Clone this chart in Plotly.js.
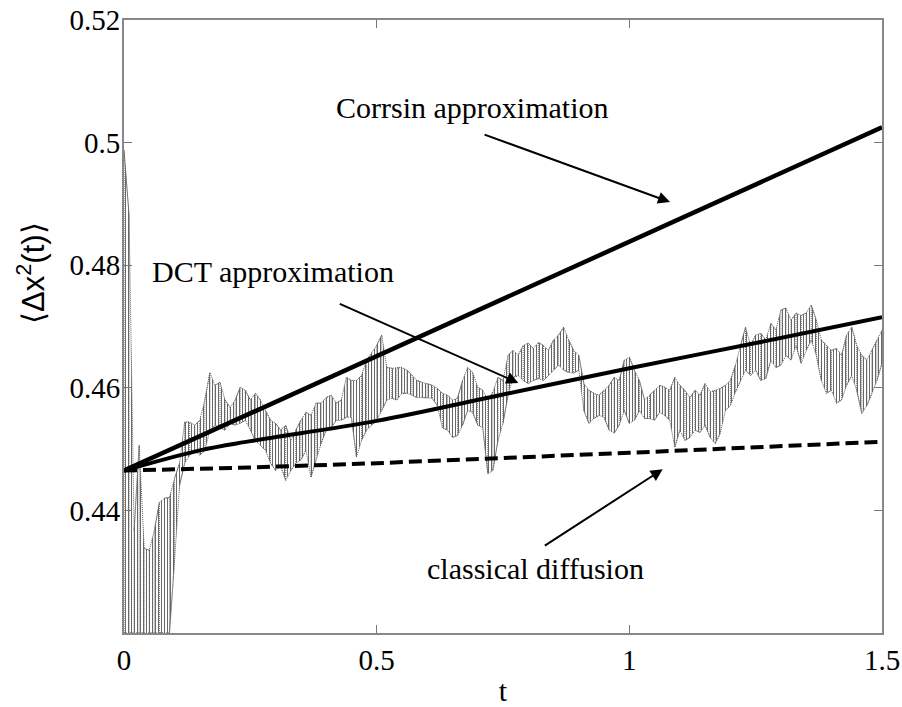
<!DOCTYPE html>
<html>
<head>
<meta charset="utf-8">
<script src="https://cdn.plot.ly/plotly-3.0.1.min.js"></script>
<style>html,body{margin:0;padding:0;background:#fff;}#chart{width:902px;height:707px;}</style>
</head>
<body>
<div id="chart"></div>
<script>
// ---- data ----
// model curves
const tModel = [0, 0.15, 0.25, 0.5, 0.75, 1.0, 1.25, 1.5];
const corrsin = [0.4465, 0.4521, 0.4558, 0.4652, 0.4745, 0.4839, 0.4932, 0.5025];
const dct = [0.4465, 0.4498, 0.4513, 0.4546, 0.4589, 0.4632, 0.4673, 0.4715];
const classical = [0.4465, 0.4468, 0.4470, 0.4477, 0.4485, 0.4494, 0.4503, 0.4512];

// simulated (noisy) data: sample times and lower/upper envelope of the fluctuations
const tSim = [0,0.01,0.02,0.03,0.04,0.05,0.06,0.07,0.08,0.09,0.1,0.11,0.12,0.13,0.14,0.15,0.16,0.17,0.18,0.19,0.2,0.21,0.22,0.23,0.24,0.25,0.26,0.27,0.28,0.29,0.3,0.31,0.32,0.33,0.34,0.35,0.36,0.37,0.38,0.39,0.4,0.41,0.42,0.43,0.44,0.45,0.46,0.47,0.48,0.49,0.5,0.51,0.52,0.53,0.54,0.55,0.56,0.57,0.58,0.59,0.6,0.61,0.62,0.63,0.64,0.65,0.66,0.67,0.68,0.69,0.7,0.71,0.72,0.73,0.74,0.75,0.76,0.77,0.78,0.79,0.8,0.81,0.82,0.83,0.84,0.85,0.86,0.87,0.88,0.89,0.9,0.91,0.92,0.93,0.94,0.95,0.96,0.97,0.98,0.99,1.0,1.01,1.02,1.03,1.04,1.05,1.06,1.07,1.08,1.09,1.1,1.11,1.12,1.13,1.14,1.15,1.16,1.17,1.18,1.19,1.2,1.21,1.22,1.23,1.24,1.25,1.26,1.27,1.28,1.29,1.3,1.31,1.32,1.33,1.34,1.35,1.36,1.37,1.38,1.39,1.4,1.41,1.42,1.43,1.44,1.45,1.46,1.47,1.48,1.49,1.5];
const simHigh = [0.4988,0.4882,0.4367,0.4506,0.4338,0.4335,0.4367,0.4413,0.4420,0.4421,
0.4452,0.4477,0.4544,0.4544,0.4539,0.4547,0.4580,0.4625,0.4604,0.4609,
0.4580,0.4568,0.4580,0.4601,0.4596,0.4580,0.4591,0.4580,0.4563,0.4547,
0.4542,0.4531,0.4539,0.4514,0.4531,0.4547,0.4560,0.4555,0.4575,0.4575,
0.4584,0.4588,0.4575,0.4580,0.4617,0.4612,0.4612,0.4620,0.4645,0.4656,
0.4669,0.4686,0.4633,0.4632,0.4633,0.4633,0.4629,0.4620,0.4612,0.4609,
0.4607,0.4604,0.4599,0.4591,0.4588,0.4580,0.4583,0.4612,0.4633,0.4625,
0.4601,0.4596,0.4580,0.4593,0.4617,0.4612,0.4653,0.4661,0.4653,0.4669,
0.4673,0.4664,0.4674,0.4669,0.4661,0.4678,0.4686,0.4699,0.4678,0.4661,
0.4653,0.4607,0.4596,0.4591,0.4588,0.4596,0.4604,0.4617,0.4612,0.4645,
0.4650,0.4629,0.4612,0.4580,0.4588,0.4596,0.4604,0.4601,0.4596,0.4617,
0.4604,0.4596,0.4584,0.4596,0.4588,0.4607,0.4593,0.4596,0.4599,0.4604,
0.4612,0.4637,0.4669,0.4699,0.4669,0.4686,0.4689,0.4678,0.4705,0.4694,
0.4727,0.4730,0.4710,0.4722,0.4718,0.4722,0.4735,0.4710,0.4678,0.4669,
0.4661,0.4664,0.4653,0.4686,0.4699,0.4669,0.4653,0.4645,0.4661,0.4678,
0.4694];
const simLow = [0.4200,0.4200,0.4200,0.4200,0.4200,0.4200,0.4200,0.4200,0.4200,0.4200,
0.4318,0.4441,0.4477,0.4490,0.4498,0.4490,0.4498,0.4531,0.4539,0.4535,
0.4531,0.4542,0.4539,0.4542,0.4547,0.4531,0.4514,0.4506,0.4498,0.4477,
0.4465,0.4473,0.4449,0.4465,0.4477,0.4482,0.4498,0.4454,0.4482,0.4509,
0.4531,0.4535,0.4547,0.4547,0.4552,0.4552,0.4487,0.4514,0.4531,0.4539,
0.4547,0.4563,0.4580,0.4583,0.4580,0.4591,0.4591,0.4588,0.4584,0.4584,
0.4584,0.4583,0.4571,0.4535,0.4531,0.4519,0.4522,0.4539,0.4563,0.4560,
0.4539,0.4535,0.4460,0.4465,0.4514,0.4542,0.4588,0.4617,0.4620,0.4612,
0.4607,0.4612,0.4615,0.4612,0.4620,0.4629,0.4637,0.4629,0.4625,0.4624,
0.4629,0.4563,0.4542,0.4550,0.4555,0.4552,0.4531,0.4526,0.4539,0.4563,
0.4542,0.4547,0.4563,0.4550,0.4550,0.4547,0.4560,0.4555,0.4547,0.4503,
0.4531,0.4514,0.4519,0.4531,0.4527,0.4539,0.4519,0.4509,0.4526,0.4563,
0.4571,0.4593,0.4612,0.4629,0.4620,0.4629,0.4612,0.4615,0.4645,0.4633,
0.4637,0.4653,0.4645,0.4669,0.4640,0.4661,0.4678,0.4653,0.4612,0.4591,
0.4596,0.4575,0.4580,0.4604,0.4620,0.4596,0.4558,0.4571,0.4591,0.4612,
0.4640];

const xTickVals = [0, 0.5, 1, 1.5];
const xTickText = ['0', '0.5', '1', '1.5'];
const yTickVals = [0.44, 0.46, 0.48, 0.5, 0.52];
const yTickText = ['0.44', '0.46', '0.48', '0.5', '0.52'];

// ---- build the fluctuating trace as alternating vertical strokes ----
const simX = [], simY = [];
for (let i = 0; i < tSim.length; i++) {
  if (i % 2 === 0) { simX.push(tSim[i], tSim[i]); simY.push(simLow[i], simHigh[i]); }
  else { simX.push(tSim[i], tSim[i]); simY.push(simHigh[i], simLow[i]); }
}

const serif = 'Liberation Serif, Times New Roman, serif';
const noiseCol = 'rgb(95,95,95)';

const traces = [
  // hatched band between the lower and upper envelope of the fluctuations
  {x: tSim, y: simLow, mode: 'lines', line: {color: noiseCol, width: 1, dash: '1px,1px'}, hoverinfo: 'skip'},
  {x: tSim, y: simHigh, mode: 'lines', line: {color: noiseCol, width: 1, dash: '1px,1px'}, hoverinfo: 'skip',
   fill: 'tonexty', fillcolor: 'rgba(0,0,0,0)',
   fillpattern: {shape: '|', size: 3, solidity: 0.35, fgcolor: 'rgb(105,105,105)', bgcolor: 'rgba(255,255,255,0)', fillmode: 'replace'}},
  {x: simX, y: simY, mode: 'lines', line: {color: noiseCol, width: 1, dash: '1px,1px'}, hoverinfo: 'skip'},
  {x: tModel, y: classical, mode: 'lines', line: {color: '#000', width: 4, dash: '13px,6px'}},
  {x: tModel, y: dct, mode: 'lines', line: {color: '#000', width: 4, shape: 'spline'}},
  {x: tModel, y: corrsin, mode: 'lines', line: {color: '#000', width: 4.5}}
];

const arrow = (hx, hy, tx, ty) => ({x: hx, y: hy, ax: tx, ay: ty, xref: 'x', yref: 'y', axref: 'x', ayref: 'y',
  text: '', showarrow: true, arrowhead: 2, arrowsize: 1.2, arrowwidth: 2, arrowcolor: '#000'});
const label = (x, y, text) => ({x: x, y: y, xref: 'x', yref: 'y', text: text, showarrow: false,
  font: {family: serif, size: 30, color: '#000'}, xanchor: 'center', yanchor: 'middle'});

const layout = {
  width: 902, height: 707,
  margin: {l: 124, r: 20, t: 20, b: 74},
  paper_bgcolor: '#fff', plot_bgcolor: '#fff',
  showlegend: false,
  xaxis: {
    range: [0, 1.5], tickmode: 'array', tickvals: xTickVals, ticktext: xTickText,
    ticks: 'inside', ticklen: 8, tickwidth: 1, tickcolor: '#777',
    showline: true, linecolor: '#888', linewidth: 2, mirror: 'ticks',
    showgrid: false, zeroline: false,
    tickfont: {family: serif, size: 29, color: '#000'},
    title: {text: 't', font: {family: serif, size: 30, color: '#000'}, standoff: 20}
  },
  yaxis: {
    range: [0.42, 0.52], tickmode: 'array', tickvals: yTickVals, ticktext: yTickText,
    ticks: 'inside', ticklen: 8, tickwidth: 1, tickcolor: '#777',
    showline: true, linecolor: '#888', linewidth: 2, mirror: 'ticks',
    showgrid: false, zeroline: false, ticklabelstandoff: -4,
    tickfont: {family: serif, size: 29, color: '#000'}
  },
  annotations: [
    {xref: 'paper', yref: 'paper', x: -0.123, y: 0.587, text: '⟨Δx<sup>2</sup>(t)⟩', textangle: -90,
     showarrow: false, xanchor: 'center', yanchor: 'middle',
     font: {family: 'Liberation Sans, Arial, sans-serif', size: 31, color: '#000'}},
    label(0.6887, 0.5058, 'Corrsin approximation'),
    arrow(1.0805, 0.4903, 0.7105, 0.5014),
    label(0.2939, 0.4789, 'DCT approximation'),
    arrow(0.7803, 0.4608, 0.4241, 0.4738),
    label(0.8134, 0.4305, 'classical diffusion'),
    arrow(1.0660, 0.4467, 0.8298, 0.4341)
  ]
};

Plotly.newPlot('chart', traces, layout, {staticPlot: true, displayModeBar: false});
</script>
</body>
</html>
